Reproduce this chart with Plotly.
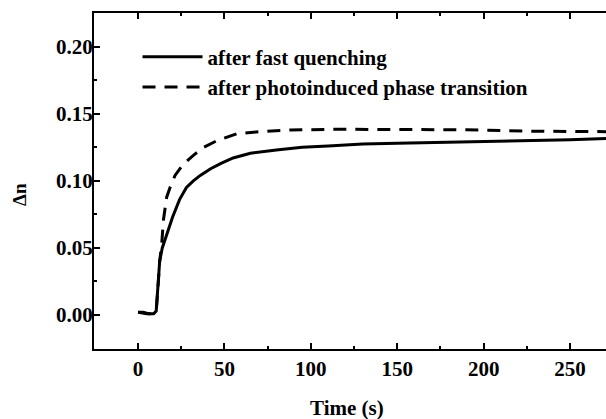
import plotly.graph_objects as go

# Solid curve: after fast quenching
t_quench = [0, 3, 6, 9, 10.5, 11.5, 12.5, 14, 17, 20, 24, 28, 32, 36, 42, 48, 55, 65,
            80, 95, 110, 130, 150, 175, 200, 225, 250, 272]
dn_quench = [0.002, 0.002, 0.001, 0.001, 0.003, 0.02, 0.04, 0.05, 0.062, 0.073, 0.086,
             0.095, 0.100, 0.104, 0.109, 0.113, 0.117, 0.1205, 0.123, 0.125, 0.126,
             0.1275, 0.128, 0.1285, 0.129, 0.130, 0.1305, 0.1315]

# Dashed curve: after photoinduced phase transition
t_photo = [0, 5, 9, 10.5, 11.5, 12.5, 13.7, 14.7, 16.6, 18.5, 21.4, 26, 32, 38, 45, 57,
           70, 88, 113, 140, 165, 190, 223, 250, 272]
dn_photo = [0.002, 0.001, 0.001, 0.003, 0.02, 0.04, 0.053, 0.071, 0.088, 0.095, 0.104,
            0.112, 0.119, 0.125, 0.1295, 0.135, 0.1366, 0.1378, 0.1384, 0.1384, 0.1384,
            0.138, 0.137, 0.1366, 0.1366]

x_ticks = [0, 50, 100, 150, 200, 250]
y_ticks = [0.00, 0.05, 0.10, 0.15, 0.20]
y_tick_text = ["0.00", "0.05", "0.10", "0.15", "0.20"]

FONT = "Liberation Serif, Times New Roman, Times, serif"
BOLD = dict(family=FONT, size=21, color="black", weight="bold")

fig = go.Figure()
fig.add_trace(go.Scatter(x=t_quench, y=dn_quench, mode="lines",
                         name="after fast quenching",
                         line=dict(color="black", width=3)))
fig.add_trace(go.Scatter(x=t_photo, y=dn_photo, mode="lines",
                         name="after photoinduced phase transition",
                         line=dict(color="black", width=3, dash="13px,9px")))

fig.update_layout(
    width=606, height=419,
    margin=dict(l=94, r=0, t=13, b=70, autoexpand=False),
    paper_bgcolor="white", plot_bgcolor="white",
    font=BOLD,
    showlegend=True,
    legend=dict(x=0.085, y=0.93, xanchor="left", yanchor="top",
                bgcolor="rgba(0,0,0,0)", borderwidth=0,
                font=BOLD, itemwidth=60, tracegroupgap=0),
    xaxis=dict(range=[-25.5, 270.8], tickvals=x_ticks, automargin=False,
               ticks="inside", ticklen=6, tickwidth=2, tickcolor="black",
               showline=True, linewidth=2, linecolor="black", mirror="ticks",
               showgrid=False, zeroline=False, tickfont=BOLD,
               minor=dict(ticks="inside", ticklen=3, tickwidth=2, dtick=25,
                          tick0=0, tickcolor="black", showgrid=False)),
    yaxis=dict(range=[-0.0253, 0.225], tickvals=y_ticks, ticktext=y_tick_text,
               automargin=False, ticklabelstandoff=-5,
               ticks="inside", ticklen=6, tickwidth=2, tickcolor="black",
               showline=True, linewidth=2, linecolor="black", mirror=False,
               showgrid=False, zeroline=False, tickfont=BOLD,
               minor=dict(ticks="inside", ticklen=3, tickwidth=2, dtick=0.025,
                          tick0=0, tickcolor="black", showgrid=False)),
)

fig.add_annotation(text="Time (s)", xref="paper", yref="paper",
                   x=(347 - 94) / 512, y=(349 - 408) / 336, xanchor="center",
                   yanchor="middle", showarrow=False, font=BOLD)
fig.add_annotation(text="Δn", xref="paper", yref="paper",
                   x=(19 - 94) / 512, y=(349 - 195) / 336, xanchor="center",
                   yanchor="middle", showarrow=False, textangle=-90,
                   font=dict(family=FONT, size=19, color="black", weight="bold"))

fig.write_html("out.html", config={"displayModeBar": False},
               post_script="document.body.style.margin='0';document.body.style.padding='0';")
